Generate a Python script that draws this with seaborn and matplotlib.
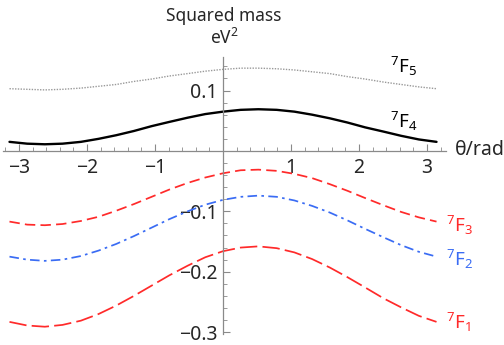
import matplotlib
matplotlib.use("Agg")
import matplotlib.pyplot as plt
import numpy as np
import pandas as pd
import seaborn as sns

# theta samples (rad)
theta = [-3.14, -2.88, -2.62, -2.36, -2.09, -1.83, -1.57, -1.31, -1.05, -0.79,
         -0.52, -0.26, 0.0, 0.26, 0.52, 0.79, 1.05, 1.31, 1.57, 1.83,
         2.09, 2.36, 2.62, 2.88, 3.14]

# squared mass (eV^2) for each level
f5 = [0.103, 0.102, 0.101, 0.102, 0.104, 0.107, 0.110, 0.115, 0.119, 0.124,
      0.128, 0.132, 0.135, 0.137, 0.137, 0.136, 0.134, 0.131, 0.128, 0.123,
      0.119, 0.114, 0.110, 0.106, 0.103]
f4 = [0.015, 0.012, 0.011, 0.012, 0.015, 0.020, 0.026, 0.033, 0.041, 0.048,
      0.055, 0.061, 0.065, 0.068, 0.069, 0.068, 0.065, 0.060, 0.054, 0.047,
      0.039, 0.032, 0.025, 0.019, 0.015]
f3 = [-0.117, -0.122, -0.123, -0.121, -0.116, -0.109, -0.099, -0.088, -0.076, -0.064,
      -0.053, -0.044, -0.037, -0.032, -0.031, -0.033, -0.038, -0.045, -0.055, -0.066,
      -0.078, -0.090, -0.101, -0.110, -0.117]
f2 = [-0.175, -0.180, -0.182, -0.180, -0.174, -0.165, -0.154, -0.141, -0.127, -0.113,
      -0.100, -0.089, -0.081, -0.076, -0.074, -0.076, -0.082, -0.091, -0.102, -0.115,
      -0.129, -0.143, -0.156, -0.167, -0.175]
f1 = [-0.283, -0.289, -0.291, -0.288, -0.281, -0.270, -0.256, -0.240, -0.223, -0.206,
      -0.190, -0.176, -0.166, -0.160, -0.158, -0.161, -0.168, -0.179, -0.193, -0.209,
      -0.226, -0.244, -0.259, -0.273, -0.283]

levels = ["5", "4", "3", "2", "1"]
colors = ["#999999", "#000000", "#ff2a2a", "#3a6cf4", "#ff2a2a"]
label_colors = ["#000000", "#000000", "#ff2a2a", "#3a6cf4", "#ff2a2a"]

sns.set_style("white")
plt.rcParams["font.family"] = ["Noto Sans", "DejaVu Sans"]
plt.rcParams["mathtext.fontset"] = "custom"
plt.rcParams["mathtext.rm"] = "Noto Sans"
plt.rcParams["mathtext.it"] = "Noto Sans"

df = pd.DataFrame({"theta": theta, "5": f5, "4": f4, "3": f3, "2": f2, "1": f1})
long = df.melt(id_vars="theta", var_name="level", value_name="m2")

fig = plt.figure(figsize=(5.04, 3.45), dpi=100)
ax = fig.add_axes([0.006, 0.032, 0.879, 0.803])

styles = {
    "5": dict(lw=1.0, dashes=(1, 1)),
    "4": dict(lw=1.7, dashes=None),
    "3": dict(lw=1.25, dashes=(6, 3)),
    "2": dict(lw=1.25, dashes=(5.5, 2.5, 1.5, 2.5)),
    "1": dict(lw=1.25, dashes=(10, 3)),
}
for lev, col in zip(levels, colors):
    sub = long[long["level"] == lev]
    line = sns.lineplot(data=sub, x="theta", y="m2", color=col, ax=ax,
                        lw=styles[lev]["lw"], legend=False)
    if styles[lev]["dashes"] is not None:
        line.lines[-1].set_dashes(styles[lev]["dashes"])

ax.set_xlim(-3.235, 3.28)
ax.set_ylim(-0.303, 0.1556)

for side in ["top", "right"]:
    ax.spines[side].set_visible(False)
ax.spines["left"].set_position(("data", 0))
ax.spines["bottom"].set_position(("data", 0))
axis_col = "#8a8a8a"
for side in ["left", "bottom"]:
    ax.spines[side].set_color(axis_col)
    ax.spines[side].set_linewidth(0.9)

ax.set_xticks([-3, -2, -1, 1, 2, 3])
ax.set_xticklabels(["\u22123", "\u22122", "\u22121", "1", "2", "3"])
ax.set_xticks(np.arange(-3.2, 3.21, 0.2), minor=True)
ax.set_yticks([-0.3, -0.2, -0.1, 0.1])
ax.set_yticklabels(["\u22120.3", "\u22120.2", "\u22120.1", "0.1"])
ax.set_yticks(np.arange(-0.30, 0.151, 0.02), minor=True)
ax.tick_params(axis="both", which="major", direction="in", length=5, width=0.8,
               color=axis_col, labelsize=14, pad=4)
ax.tick_params(axis="x", which="major", pad=5)
ax.tick_params(axis="both", which="minor", direction="in", length=3, width=0.6,
               color=axis_col)
ax.tick_params(axis="x", which="both", bottom=True)
ax.tick_params(axis="y", which="both", left=True)
ax.set_xlabel("")
ax.set_ylabel("")

fig.text(224 / 504, 1 - 16 / 345, "Squared mass", ha="center", va="center", fontsize=12.5)
fig.text(224 / 504, 1 - 38 / 345, "eV$^2$", ha="center", va="center", fontsize=12.5)
fig.text(455 / 504, 1 - 150 / 345, "\u03b8/rad", ha="left", va="center", fontsize=14)

label_pos = [(390, 66), (390, 121), (446, 225), (446, 259), (446, 322)]
for lev, col, (px, py) in zip(levels, label_colors, label_pos):
    fig.text(px / 504, 1 - py / 345, r"$^{7}\mathrm{F}_{" + lev + "}$",
             color=col, ha="left", va="center", fontsize=13.5)

fig.savefig("out.png", dpi=100)
